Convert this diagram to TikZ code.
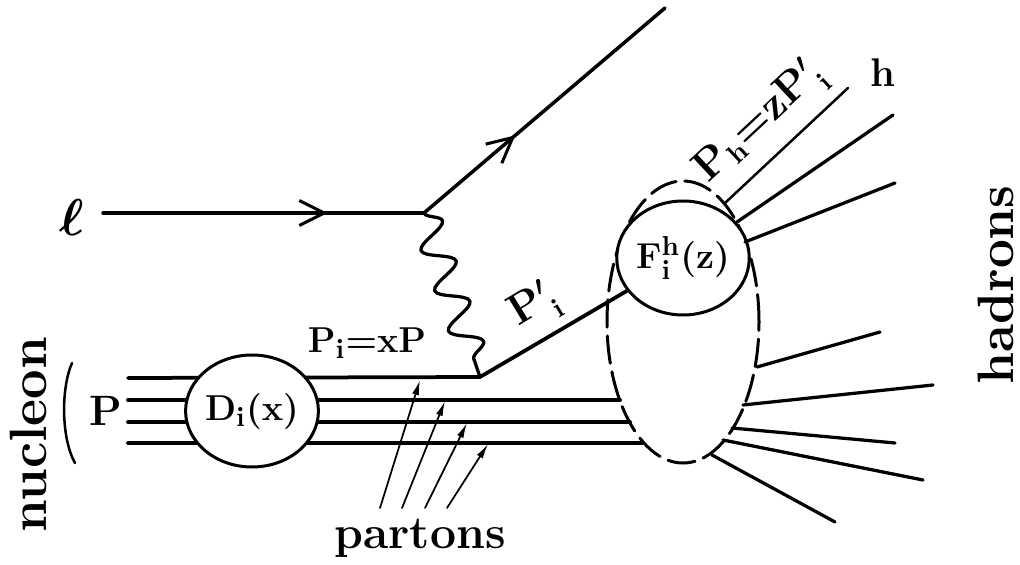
\documentclass[tikz,border=0pt]{standalone}
\usetikzlibrary{arrows.meta,decorations.pathmorphing,decorations.markings,shapes.geometric}
\begin{document}
\begin{tikzpicture}[x=0.4pt,y=-0.4pt,line cap=round,line join=round,
  lep/.style={line width=1.4pt},
  quark/.style={line width=1.5pt},
  had/.style={line width=1.3pt},
  circnode/.style={draw,shape=ellipse,line width=1.2pt,fill=white,inner sep=0pt,font=\fontsize{15}{17}\selectfont\bfseries\boldmath},
  lbl/.style={font=\fontsize{16}{18}\selectfont\bfseries\boldmath,inner sep=0pt},
  midarrow/.style={postaction={decorate},decoration={markings,mark=at position #1 with {\arrow{Straight Barb[length=10pt,width=10pt,line width=1.2pt]}}}},
  partarrow/.style={line width=0.7pt,-{Latex[length=6pt,width=2.8pt]}}
]
\useasboundingbox (0,0) rectangle (1020,565);

% hadronisation blob
\node[draw,shape=ellipse,line width=1.2pt,dash pattern=on 11pt off 3.5pt,minimum width=60.8pt,minimum height=112.8pt,inner sep=0pt] (blob) at (683,322) {};

% coordinates
\coordinate (lin) at (103,213);
\coordinate (vtx) at (424,213);
\coordinate (lout) at (665,8);
\coordinate (kink) at (480,377);
\coordinate (q1s) at (128,378);
\coordinate (q2s) at (128,400);
\coordinate (q3s) at (128,422);
\coordinate (q4s) at (128,443);
\coordinate (q2e) at (620,400);
\coordinate (q3e) at (630,422);
\coordinate (q4e) at (642,443);

% lepton lines
\draw[lep,midarrow=0.70] (lin) -- (vtx);
\draw[lep,midarrow=0.38] (vtx) -- (lout);

% photon
\draw[line width=1.3pt,decorate,decoration={snake,amplitude=6pt,segment length=17pt,post length=1pt}] (vtx) -- (kink);

% quark lines
\draw[quark] (q1s) -- (kink);
\draw[quark] (q2s) -- (q2e);
\draw[quark] (q3s) -- (q3e);
\draw[quark] (q4s) -- (q4e);

% distribution and fragmentation circles
\node[circnode,minimum width=41.6pt,minimum height=44.8pt] (Dc) at (252,411) {$\mathbf{D_i(x)}$};
\node[circnode,minimum width=42.8pt,minimum height=45.6pt] (Fc) at (683,258) {$\mathbf{F_i^h(z)}$};
\draw[quark] (kink) -- (Fc);

% hadrons
\coordinate (h1s) at (725,203); \coordinate (h1e) at (848,88);
\coordinate (h2s) at (737,222); \coordinate (h2e) at (893,115);
\coordinate (h3s) at (745,242); \coordinate (h3e) at (895,183);
\coordinate (h4s) at (757,367); \coordinate (h4e) at (880,332);
\coordinate (h5s) at (743,405); \coordinate (h5e) at (933,385);
\coordinate (h6s) at (732,428); \coordinate (h6e) at (895,443);
\coordinate (h7s) at (723,440); \coordinate (h7e) at (923,480);
\coordinate (h8s) at (712,455); \coordinate (h8e) at (835,522);
\draw[line width=1pt] (h1s) -- (h1e);
\draw[had] (h2s) -- (h2e);
\draw[had] (h3s) -- (h3e);
\draw[had] (h4s) -- (h4e);
\draw[had] (h5s) -- (h5e);
\draw[had] (h6s) -- (h6e);
\draw[had] (h7s) -- (h7e);
\draw[had] (h8s) -- (h8e);

% parton arrows
\coordinate (pa1) at (380,508); \coordinate (pt1) at (420,380);
\coordinate (pa2) at (402,508); \coordinate (pt2) at (445,401);
\coordinate (pa3) at (425,508); \coordinate (pt3) at (467,423);
\coordinate (pa4) at (447,508); \coordinate (pt4) at (488,444);
\draw[partarrow] (pa1) -- (pt1);
\draw[partarrow] (pa2) -- (pt2);
\draw[partarrow] (pa3) -- (pt3);
\draw[partarrow] (pa4) -- (pt4);

% nucleon bracket
\draw[line width=1pt] (72,363) .. controls (61,388) and (61,438) .. (75,463);

% labels
\node[inner sep=0pt,font=\fontsize{22}{24}\selectfont\boldmath] (ell) at (72,217) {$\ell$};
\node[inner sep=0pt,font=\fontsize{17}{19}\selectfont\bfseries] (Plab) at (106,411) {P};
\node[lbl,font=\fontsize{15}{17}\selectfont\bfseries\boldmath] (pilab) at (367,343) {$\mathbf{P_i{=}xP}$};
\node[lbl,rotate=31] (pplab) at (535,307) {$\mathbf{P^{\prime}_{\,i}}$};
\node[lbl,rotate=43] (phlab) at (761,123) {$\mathbf{P_h{=}zP^{\prime}_{\,i}}$};
\node[inner sep=0pt,font=\fontsize{16}{18}\selectfont\bfseries] (hlab) at (883,73) {h};
\node[inner sep=0pt,font=\fontsize{18.5}{22}\selectfont\bfseries,anchor=base] (partons) at (420,548) {partons};
\node[inner sep=0pt,font=\fontsize{21}{24}\selectfont\bfseries,rotate=90] (nucleon) at (28,435) {nucleon};
\node[inner sep=0pt,font=\fontsize{20.5}{24}\selectfont\bfseries,rotate=90] (hadrons) at (996,285) {hadrons};
\end{tikzpicture}
\end{document}
